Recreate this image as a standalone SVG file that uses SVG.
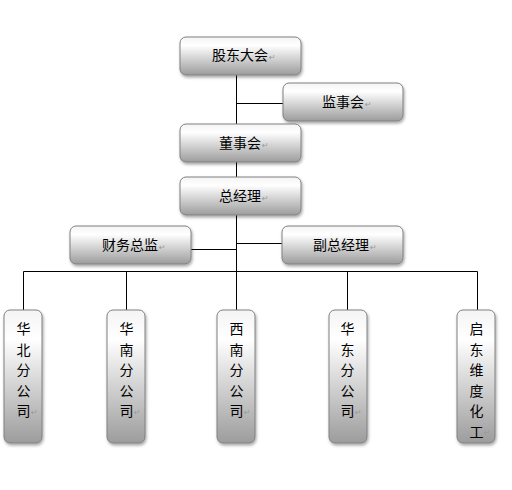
<svg xmlns="http://www.w3.org/2000/svg" width="512" height="490" viewBox="0 0 512 490">
<defs>
<linearGradient id="g" x1="0" y1="0" x2="0" y2="1">
<stop offset="0" stop-color="#f4f4f4"/>
<stop offset="0.22" stop-color="#ffffff"/>
<stop offset="1" stop-color="#9c9c9c"/>
</linearGradient>
<filter id="sh" x="-20%" y="-20%" width="140%" height="140%">
<feDropShadow dx="1" dy="2" stdDeviation="1.5" flood-color="#000" flood-opacity="0.35"/>
</filter>
</defs>
<style>
.box{fill:url(#g);stroke:#808080;stroke-width:1;filter:url(#sh)}
.t{font-family:"Noto Sans CJK SC","Liberation Sans",sans-serif;font-size:14px;fill:#000}
.v{font-family:"Noto Sans CJK SC","Liberation Sans",sans-serif;font-size:14px;fill:#000;text-anchor:middle}
.p{font-family:"DejaVu Sans",sans-serif;font-size:8px;fill:#999}
.c{stroke:#000;stroke-width:1;fill:none}
</style>
<rect width="512" height="490" fill="#fff"/>
<g id="connectors">
<path class="c" d="M236.5 75V124M236.5 162V177M236.5 215V271.5M236.5 103.5H283M191 249.5H236.5M236.5 243.5H282M23.5 271.5H477.5M23.5 271.5V310M126.5 271.5V310M236.5 271.5V310M347.5 271.5V310M477.5 271.5V310"/>
</g>
<g id="gudong">
<rect class="box" x="180" y="37" width="121" height="38" rx="6"/>
<text class="t" x="212" y="60">股东大会<tspan class="p" dx="1">↵</tspan></text>
</g>
<g id="jianshi">
<rect class="box" x="283" y="83" width="120" height="38" rx="6"/>
<text class="t" x="322" y="107">监事会<tspan class="p" dx="1">↵</tspan></text>
</g>
<g id="dongshi">
<rect class="box" x="180" y="124" width="121" height="38" rx="6"/>
<text class="t" x="219" y="148">董事会<tspan class="p" dx="1">↵</tspan></text>
</g>
<g id="zongjingli">
<rect class="box" x="180" y="177" width="121" height="38" rx="6"/>
<text class="t" x="219" y="201">总经理<tspan class="p" dx="1">↵</tspan></text>
</g>
<g id="caiwu">
<rect class="box" x="70" y="226" width="121" height="38" rx="6"/>
<text class="t" x="102" y="250">财务总监<tspan class="p" dx="1">↵</tspan></text>
</g>
<g id="fuzong">
<rect class="box" x="282" y="226" width="121" height="38" rx="6"/>
<text class="t" x="313" y="250">副总经理<tspan class="p" dx="1">↵</tspan></text>
</g>
<g id="huabei">
<rect class="box" x="4" y="310" width="38" height="133" rx="6"/>
<text class="v" x="23.5" y="334">华</text><text class="v" x="23.5" y="354.5">北</text><text class="v" x="23.5" y="375">分</text><text class="v" x="23.5" y="395.5">公</text><text class="v" x="23.5" y="416">司</text><text class="p" x="31" y="415">↵</text>
</g>
<g id="huanan">
<rect class="box" x="107" y="310" width="38" height="133" rx="6"/>
<text class="v" x="126.5" y="334">华</text><text class="v" x="126.5" y="354.5">南</text><text class="v" x="126.5" y="375">分</text><text class="v" x="126.5" y="395.5">公</text><text class="v" x="126.5" y="416">司</text><text class="p" x="134" y="415">↵</text>
</g>
<g id="xinan">
<rect class="box" x="217" y="310" width="38" height="133" rx="6"/>
<text class="v" x="236.5" y="334">西</text><text class="v" x="236.5" y="354.5">南</text><text class="v" x="236.5" y="375">分</text><text class="v" x="236.5" y="395.5">公</text><text class="v" x="236.5" y="416">司</text><text class="p" x="244" y="415">↵</text>
</g>
<g id="huadong">
<rect class="box" x="329" y="310" width="38" height="133" rx="6"/>
<text class="v" x="347.5" y="334">华</text><text class="v" x="347.5" y="354.5">东</text><text class="v" x="347.5" y="375">分</text><text class="v" x="347.5" y="395.5">公</text><text class="v" x="347.5" y="416">司</text><text class="p" x="355" y="415">↵</text>
</g>
<g id="qidong">
<rect class="box" x="457" y="310" width="38" height="133" rx="6"/>
<text class="v" x="476.5" y="334">启</text><text class="v" x="476.5" y="354.5">东</text><text class="v" x="476.5" y="375">维</text><text class="v" x="476.5" y="395.5">度</text><text class="v" x="476.5" y="416">化</text><text class="v" x="476.5" y="436.5">工</text><text class="p" x="484" y="435">↵</text>
</g>
</svg>
